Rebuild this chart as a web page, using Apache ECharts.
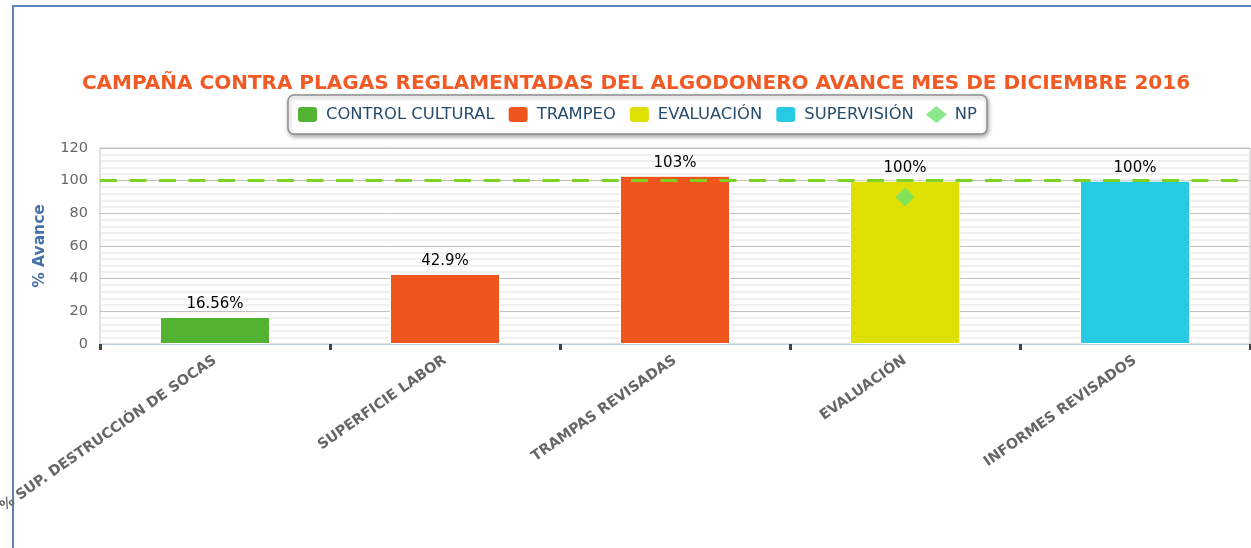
<!DOCTYPE html>
<html>
<head>
<meta charset="utf-8">
<script src="https://cdn.jsdelivr.net/npm/echarts@6/dist/echarts.min.js"></script>
<style>
html,body{margin:0;padding:0;background:#fff;overflow:hidden;}
#chart{position:absolute;left:0;top:0;width:1251px;height:548px;}
#frame{position:absolute;left:12px;top:5px;width:1400px;height:700px;border-left:2px solid #5a84bb;border-top:2px solid #5a84bb;pointer-events:none;}
</style>
</head>
<body>
<div id="frame"></div>
<div id="chart"></div>
<script>
const categories = ['% SUP. DESTRUCCIÓN DE SOCAS', 'SUPERFICIE LABOR', 'TRAMPAS REVISADAS', 'EVALUACIÓN', 'INFORMES REVISADOS'];
const controlCultural = [16.56, null, null, null, null];
const trampeo = [null, 42.9, 103, null, null];
const evaluacion = [null, null, null, 100, null];
const supervision = [null, null, null, null, 100];
const np = [null, null, null, 90, null];
const targetLine = 100;
const yTicks = { min: 0, max: 120, interval: 20 };

const FONT = 'DejaVu Sans';
const chart = echarts.init(document.getElementById('chart'), null, { renderer: 'canvas' });

function barSeries(name, data, color, withMark) {
  const s = {
    name: name,
    type: 'bar',
    data: data,
    barWidth: 110,
    barGap: '-100%',
    itemStyle: { color: color, borderColor: '#ffffff', borderWidth: 1 },
    label: {
      show: true,
      position: 'top',
      distance: 5,
      color: '#000',
      fontFamily: FONT,
      fontSize: 15,
      formatter: p => p.value == null ? '' : p.value + '%'
    },
    z: 3
  };
  if (withMark) {
    s.markLine = {
      silent: true,
      symbol: 'none',
      label: { show: false },
      lineStyle: { color: '#7ED321', type: [17, 12.5], width: 3, opacity: 1 },
      data: [{ yAxis: targetLine }]
    };
  }
  return s;
}

const option = {
  animation: false,
  backgroundColor: 'transparent',
  title: {
    text: 'CAMPAÑA CONTRA PLAGAS REGLAMENTADAS DEL ALGODONERO AVANCE MES DE DICIEMBRE 2016',
    left: 636,
    top: 74,
    textAlign: 'center',
    padding: 0,
    textStyle: { color: '#F15A24', fontFamily: FONT, fontWeight: 'bold', fontSize: 20 }
  },
  legend: {
    left: 288,
    top: 95,
    padding: [10, 10, 10, 8],
    itemGap: 12,
    itemWidth: 21,
    itemHeight: 17,
    backgroundColor: '#fff',
    borderColor: '#8f8f8f',
    borderWidth: 1.5,
    borderRadius: 6,
    shadowBlur: 4,
    shadowOffsetX: 1,
    shadowOffsetY: 2,
    shadowColor: 'rgba(0,0,0,0.35)',
    textStyle: { color: '#274b6d', fontFamily: FONT, fontSize: 16.4, padding: [0, 0, 0, 3] },
    data: [
      { name: 'CONTROL CULTURAL', icon: 'roundRect' },
      { name: 'TRAMPEO', icon: 'roundRect' },
      { name: 'EVALUACIÓN', icon: 'roundRect' },
      { name: 'SUPERVISIÓN', icon: 'roundRect' },
      { name: 'NP', icon: 'diamond' }
    ]
  },
  grid: {
    left: 100,
    right: 1,
    top: 148,
    bottom: 204,
    show: true,
    borderColor: '#C0C0C0',
    borderWidth: 1,
    containLabel: false,
    outerBoundsMode: 'none'
  },
  xAxis: {
    type: 'category',
    data: categories,
    axisLine: { show: true, lineStyle: { color: '#C0D0E0', width: 1 } },
    axisTick: { show: true, interval: 0, length: 6, lineStyle: { color: '#444', width: 3 } },
    axisLabel: {
      interval: 0,
      rotate: 35,
      margin: 15,
      color: '#666',
      fontFamily: FONT,
      fontWeight: 'bold',
      fontSize: 14.3
    },
    splitLine: { show: false }
  },
  yAxis: {
    type: 'value',
    min: yTicks.min,
    max: yTicks.max,
    interval: yTicks.interval,
    name: '% Avance',
    nameLocation: 'middle',
    nameGap: 52,
    nameRotate: 90,
    nameTextStyle: { color: '#4572A7', fontFamily: FONT, fontWeight: 'bold', fontSize: 15.5 },
    axisLine: { show: false },
    axisTick: { show: false },
    axisLabel: { color: '#666', fontFamily: FONT, fontSize: 14.5, margin: 12 },
    splitLine: { show: true, lineStyle: { color: '#C0C0C0', width: 1 } },
    minorTick: { show: false, splitNumber: 5 },
    minorSplitLine: { show: true, lineStyle: { color: '#ececec', width: 1.5 } }
  },
  series: [
    barSeries('CONTROL CULTURAL', controlCultural, '#52B332', true),
    barSeries('TRAMPEO', trampeo, '#EE561E', false),
    barSeries('EVALUACIÓN', evaluacion, '#DDE000', false),
    barSeries('SUPERVISIÓN', supervision, '#26CBE3', false),
    {
      name: 'NP',
      type: 'scatter',
      data: np,
      symbol: 'diamond',
      symbolSize: 19,
      itemStyle: { color: '#6BE26F' },
      z: 5
    }
  ]
};
chart.setOption(option);
</script>
</body>
</html>
